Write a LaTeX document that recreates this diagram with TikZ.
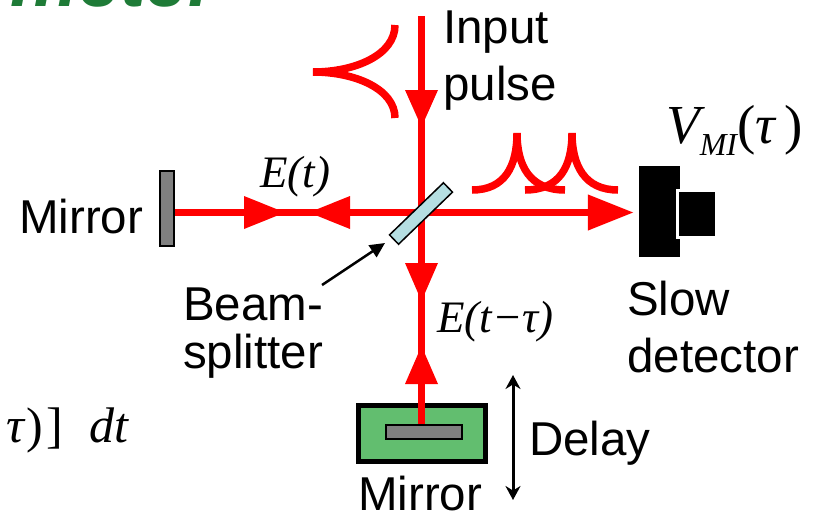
\documentclass[tikz,border=0pt]{standalone}
\usepackage{fontspec}
\setmainfont{Liberation Sans}
\newfontfamily\tms{Liberation Serif}
\usetikzlibrary{arrows.meta}
\definecolor{beamred}{HTML}{FF0000}
\definecolor{mirrorgray}{HTML}{808080}
\definecolor{stagegreen}{HTML}{62BE6F}
\definecolor{bsblue}{HTML}{B5DFE2}
\definecolor{titlegreen}{HTML}{1E7B37}
\begin{document}
\begin{tikzpicture}[x=1pt,y=-1pt,
  beam/.style={draw=beamred, line width=7.5pt},
  pulse/.style={draw=beamred, line width=7.5pt},
  head/.style={fill=beamred},
  lbl/.style={inner sep=0pt, font=\fontsize{47.5}{57}\selectfont, align=left, anchor=base west},
  mlbl/.style={inner sep=0pt, font=\tms\itshape\fontsize{45}{45}\selectfont, anchor=base west},
  plate/.style={draw=black, fill=mirrorgray, inner sep=0pt},
  pointer/.style={draw=black, line width=2.5pt, -{Triangle[length=15pt,width=14pt]}},
  delayarrow/.style={draw=black, line width=3pt, {Stealth[length=14pt,width=15pt]}-{Stealth[length=14pt,width=15pt]}}
  ]
\useasboundingbox (0,0) rectangle (819,517);

% clipped title
\node[inner sep=0pt, anchor=base east, text=titlegreen, font=\bfseries\itshape\fontsize{76}{76}\selectfont] (title) at (218,6) {meter};

% optical elements
\coordinate (c) at (421.5,212.5);
\coordinate (top) at (421.5,16);
\node[plate, line width=1.5pt, minimum width=14pt, minimum height=75pt] (mL) at (167,208.5) {};
\node[draw=black, fill=stagegreen, line width=5pt, minimum width=127pt, minimum height=56pt, inner sep=0pt] (stage) at (422,433.5) {};
\node[plate, line width=1.2pt, minimum width=76pt, minimum height=14pt] (mB) at (424,432) {};
\node[fill=black, minimum width=41pt, minimum height=91pt, inner sep=0pt] (det) at (659.5,211.5) {};
\node[fill=black, draw=white, line width=3pt, minimum width=39pt, minimum height=47pt, inner sep=0pt] (detw) at (697,214) {};

% beams
\draw[beam] (top) -- (top |- mB.north);
\draw[beam] (mL.east |- c) -- (c);
\draw[beam, -{Triangle[length=46pt,width=34pt]}] (c) -- ([xshift=-5pt]det.west |- c);

% arrowheads on the beams
\fill[head] (244,196) -- (285,212.5) -- (244,229) -- cycle;
\fill[head] (350,196) -- (309,212.5) -- (350,229) -- cycle;
\fill[head] (405,90) -- (421.5,127) -- (438,90) -- cycle;
\fill[head] (405,263) -- (421.5,301) -- (438,263) -- cycle;
\fill[head] (405,384) -- (421.5,346) -- (438,384) -- cycle;

% beam splitter
\node[draw=black, fill=bsblue, line width=1.5pt, minimum width=75pt, minimum height=13pt, inner sep=0pt, rotate=44] (bs) at (421,213.5) {};

% pulses
\draw[pulse] (395,25) .. controls (395,55) and (355,72) .. (313,72)
             .. controls (355,72) and (395,89) .. (395,118);
\draw[pulse] (472,190) .. controls (505,190) and (517,166) .. (517,133)
             .. controls (517,166) and (530,190) .. (565,190);
\draw[pulse] (525,190) .. controls (560,190) and (572,166) .. (572,133)
             .. controls (572,166) and (585,190) .. (618,190);

% labels (base anchor = baseline of the last line)
\node[lbl] (inp) at (443,100) {Input\\pulse};
\node[lbl] (mirL) at (19,233) {Mirror};
\node[lbl, font=\fontsize{47.5}{48}\selectfont] (bsl) at (183,368) {Beam-\\splitter};
\node[lbl] (slow) at (627,372) {Slow\\detector};
\node[lbl] (delay) at (529,455) {Delay};
\node[lbl] (mirB) at (358,510) {Mirror};
\node[mlbl] (et) at (260,187) {E(t)};
\node[mlbl] (etau) at (437,332) {E(t−τ)};
\node[inner sep=0pt, anchor=base west, font=\tms\fontsize{55}{55}\selectfont] (vmi) at (666,143)
  {\itshape V\raisebox{-12pt}{\fontsize{32}{32}\selectfont\itshape MI}\upshape(\itshape τ\upshape\hspace{9pt})};
\node[inner sep=0pt, anchor=base east, font=\tms\fontsize{50}{50}\selectfont] (frm) at (129,442)
  {\itshape τ\upshape\kern2pt)\kern3pt]\hspace{27pt}\itshape dt};

% pointer and delay arrows
\coordinate (ptrstart) at (322,285);
\coordinate (ptrend) at (385,243);
\draw[pointer] (ptrstart) -- (ptrend);
\coordinate (dtop) at (513,375);
\coordinate (dbot) at (513,500);
\draw[delayarrow] (dtop) -- (dbot);
\end{tikzpicture}
\end{document}
